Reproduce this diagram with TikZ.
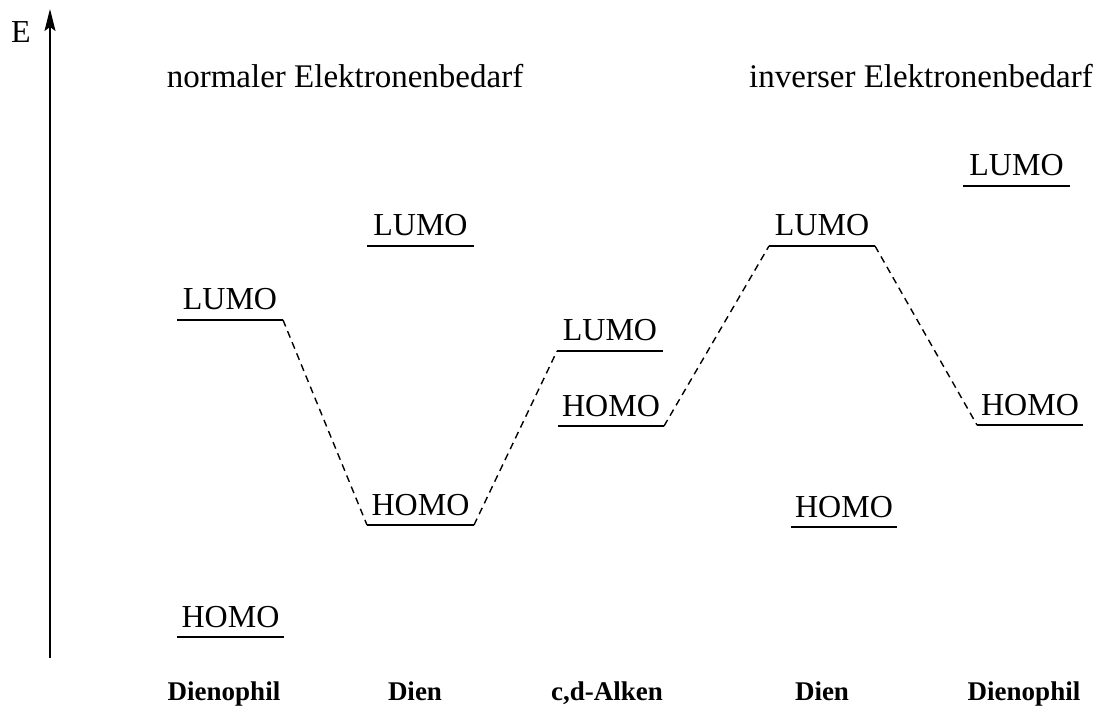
\documentclass[tikz,border=0pt]{standalone}
\usepackage{fontspec}
\setmainfont{Liberation Serif}
\usetikzlibrary{arrows.meta}
\newcommand\mylevel[5]{%
  \coordinate (#1a) at (#2,#4);
  \coordinate (#1b) at (#3,#4);
  \draw[lvl] (#1a) -- (#1b);
  \node[lbl] (#1t) at ({(#2+#3)/2},{#4-10}) {#5};}
\begin{document}
\begin{tikzpicture}[x=1pt,y=-1pt,
  lvl/.style={line width=1.6pt},
  conn/.style={line width=1.4pt, dash pattern=on 7pt off 5pt},
  lbl/.style={anchor=base, inner sep=0pt, font=\fontsize{32}{38}\selectfont},
  cat/.style={anchor=base, inner sep=0pt, font=\fontsize{27}{31}\selectfont\bfseries},
  ttl/.style={anchor=base, inner sep=0pt, font=\fontsize{33}{38}\selectfont},
]
\useasboundingbox (0,0) rectangle (1104,722);
% axis
\coordinate (ax0) at (50,658);
\coordinate (ax1) at (50,9);
\draw[line width=1.6pt, -{Stealth[length=22pt,width=11pt,inset=4pt]}] (ax0) -- (ax1);
\node[lbl, anchor=center] (E) at (21,32) {E};
% titles
\node[ttl] (tn) at (345,88) {normaler Elektronenbedarf};
\node[ttl] (ti) at (921,88) {inverser Elektronenbedarf};
% levels
\mylevel{DLL}{177}{283}{320}{LUMO}
\mylevel{DLH}{177}{284}{637}{HOMO}
\mylevel{DaL}{367}{474}{246}{LUMO}
\mylevel{DaH}{367}{474}{525}{HOMO}
\mylevel{AL}{557}{663}{351}{LUMO}
\mylevel{AH}{558}{664}{426}{HOMO}
\mylevel{DbL}{769}{875}{246}{LUMO}
\mylevel{DbH}{791}{897}{527}{HOMO}
\mylevel{DRL}{963}{1070}{186}{LUMO}
\mylevel{DRH}{977}{1083}{425}{HOMO}
% connectors
\draw[conn] (DLLb) -- (DaHa);
\draw[conn] (DaHb) -- (ALa);
\draw[conn] (AHb) -- (DbLa);
\draw[conn] (DbLb) -- (DRHa);
% categories
\node[cat] (c1) at (224,700) {Dienophil};
\node[cat] (c2) at (415,700) {Dien};
\node[cat] (c3) at (607,700) {c,d-Alken};
\node[cat] (c4) at (822,700) {Dien};
\node[cat] (c5) at (1024,700) {Dienophil};
\end{tikzpicture}
\end{document}
